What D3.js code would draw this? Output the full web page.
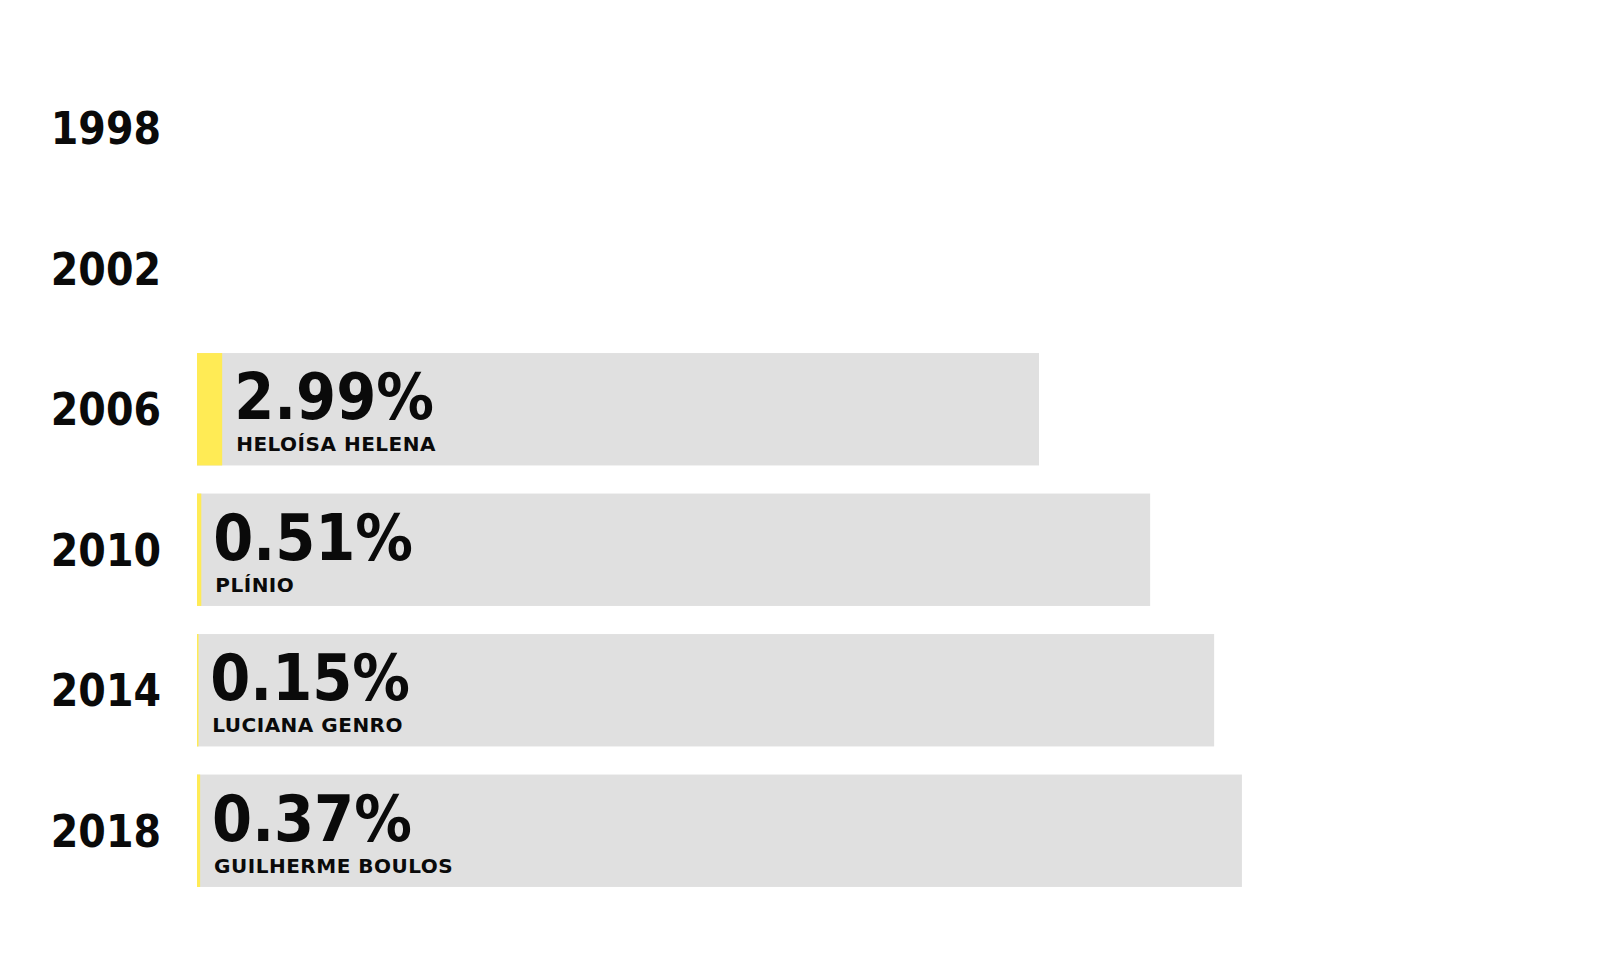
<!DOCTYPE html>
<html>
<head>
<meta charset="utf-8">
<script src="https://cdn.jsdelivr.net/npm/d3@7"></script>
<style>
  html, body { margin: 0; padding: 0; background: #fff; }
  svg { display: block; }
  text { font-family: "DejaVu Sans Condensed", "DejaVu Sans", sans-serif; font-stretch: condensed; fill: #0a0a0a; }
  text.name { font-family: "DejaVu Sans", sans-serif; font-stretch: normal; letter-spacing: 0.5px; }
</style>
</head>
<body>
<svg id="chart" width="1600" height="960"></svg>
<script>
// Data
const years = ["1998", "2002", "2006", "2010", "2014", "2018"];
const candidates = [null, null, "HELOÍSA HELENA", "PLÍNIO", "LUCIANA GENRO", "GUILHERME BOULOS"];
const votePct = [null, null, 2.99, 0.51, 0.15, 0.37];
// grey background bar length, in the same percentage units (estimated)
const totalIndex = [null, null, 100, 113.2, 120.8, 124.1];
const valueLabels = [null, null, "2.99%", "0.51%", "0.15%", "0.37%"];

const rows = years.map((y, i) => ({
  year: y, name: candidates[i], pct: votePct[i], total: totalIndex[i], label: valueLabels[i]
}));

const svg = d3.select("#chart");

const y = d3.scaleBand()
  .domain(years)
  .range([58, 901])
  .paddingInner(0.2)
  .paddingOuter(0.1);

const x = d3.scaleLinear()
  .domain([0, 100])
  .range([197, 1039]);

// Year labels
svg.append("g").selectAll("text")
  .data(rows)
  .join("text")
  .attr("x", 161)
  .attr("y", d => y(d.year) + y.bandwidth() / 2 + 16)
  .attr("text-anchor", "end")
  .style("font-size", "44px")
  .style("font-weight", "bold")
  .text(d => d.year);

const withData = rows.filter(d => d.pct != null);

// Grey bars
svg.append("g").selectAll("rect")
  .data(withData)
  .join("rect")
  .attr("x", x(0))
  .attr("y", d => y(d.year))
  .attr("width", d => x(d.total) - x(0))
  .attr("height", y.bandwidth())
  .attr("fill", "#e0e0e0");

// Yellow bars
svg.append("g").selectAll("rect")
  .data(withData)
  .join("rect")
  .attr("x", x(0))
  .attr("y", d => y(d.year))
  .attr("width", d => Math.max(1.5, x(d.pct) - x(0)))
  .attr("height", y.bandwidth())
  .attr("fill", "#ffeb55");

// Value labels
svg.append("g").selectAll("text")
  .data(withData)
  .join("text")
  .attr("x", d => x(d.pct) + 12)
  .attr("y", d => y(d.year) + 66)
  .style("font-size", "64px")
  .style("font-weight", "bold")
  .text(d => d.label);

// Candidate names
svg.append("g").selectAll("text")
  .data(withData)
  .join("text")
  .attr("class", "name")
  .attr("x", d => x(d.pct) + 14)
  .attr("y", d => y(d.year) + 98)
  .style("font-size", "20px")
  .style("font-weight", "bold")
  .text(d => d.name);
</script>
</body>
</html>
